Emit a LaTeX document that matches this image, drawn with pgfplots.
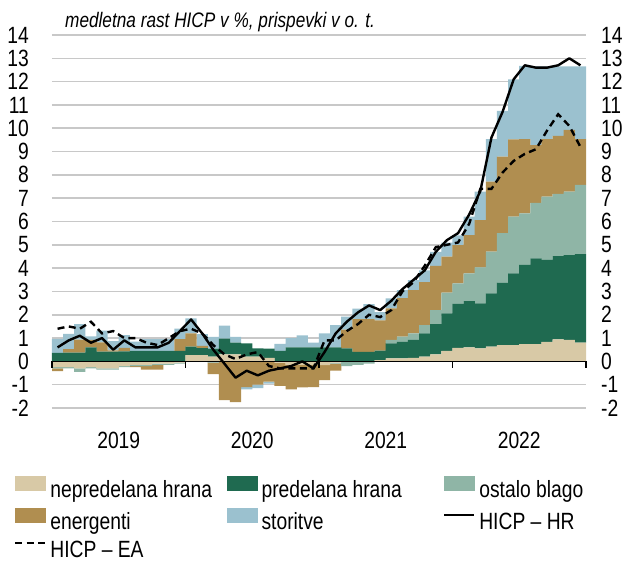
\documentclass[border=0pt]{standalone}
\usepackage{fontspec}
\setmainfont{Liberation Sans}[FakeStretch=0.82]
\usepackage{pgfplots}
\pgfplotsset{compat=1.18}
\usepackage{pgfplotstable}

\definecolor{cnh}{RGB}{216,201,166}
\definecolor{cph}{RGB}{31,106,80}
\definecolor{cob}{RGB}{143,181,166}
\definecolor{cen}{RGB}{176,142,80}
\definecolor{cst}{RGB}{155,193,207}
\definecolor{cgrid}{RGB}{200,200,200}

% positive parts of contributions (p.p.), months Jan 2019 = 0 ... Dec 2022 = 47
\pgfplotstableread{
i nh ph ob en st
0 0 0.37 0 0 0.60
1 0 0.38 0 0.15 0.65
2 0 0.38 0 0.55 0.67
3 0 0.60 0 0.32 0.15
4 0 0.42 0 0.40 0.50
5 0 0.42 0 0.05 0.40
6 0 0.43 0 0.15 0.55
7 0 0.45 0 0 0.40
8 0 0.45 0 0 0.50
9 0 0.45 0 0 0.50
10 0 0.45 0 0 0.50
11 0 0.45 0 0.50 0.45
12 0.27 0.36 0 0.57 0.64
13 0.27 0.30 0 0.10 0.50
14 0.20 0.35 0 0 0.50
15 0.30 0.68 0 0 0.55
16 0.30 0.50 0 0 0.25
17 0.20 0.57 0 0 0
18 0.20 0.36 0 0 0
19 0.15 0.40 0 0 0
20 0 0.45 0 0 0.30
21 0 0.60 0 0 0.40
22 0 0.60 0 0 0.52
23 0 0.60 0 0 0.20
24 0 0.60 0 0 0.60
25 0 0.60 0 0 0.95
26 0 0.56 0 0.80 0.56
27 0 0.41 0 1.40 0.45
28 0 0.41 0 1.40 0.65
29 0.05 0.41 0 1.30 0.35
30 0.13 0.64 0.15 1.35 0.43
31 0.13 0.71 0.22 1.65 0.35
32 0.15 0.77 0.28 1.86 0.43
33 0.20 1.00 0.35 1.85 0.50
34 0.30 1.30 0.60 1.90 0.60
35 0.45 1.61 0.89 1.54 0.60
36 0.58 1.89 0.88 1.64 0.41
37 0.60 1.98 1.20 1.64 0.79
38 0.56 1.93 1.54 2.03 1.22
39 0.63 2.29 1.79 3.00 1.82
40 0.70 2.68 2.12 3.28 1.96
41 0.70 3.08 2.43 3.31 2.58
42 0.74 3.40 2.21 3.18 3.15
43 0.74 3.68 2.38 2.48 3.37
44 0.84 3.51 2.72 2.46 3.12
45 0.94 3.58 2.66 2.49 2.98
46 0.92 3.64 2.72 2.65 2.72
47 0.80 3.80 2.97 1.96 3.12
}\posdata

% negative parts of contributions
\pgfplotstableread{
i nh ph ob en st
0 -0.25 0 -0.05 -0.12 0
1 -0.25 0 -0.05 0 0
2 -0.30 0 -0.15 0 0
3 -0.25 0 -0.05 0 0
4 -0.30 0 -0.05 0 0
5 -0.30 0 -0.05 0 0
6 -0.20 0 -0.05 0 0
7 -0.15 0 -0.05 -0.05 0
8 -0.15 0 -0.05 -0.15 0
9 -0.10 0 -0.05 -0.20 0
10 -0.10 0 -0.05 0 0
11 -0.05 0 -0.05 0 0
12 0 0 0 0 0
13 0 0 0 0 0
14 0 0 -0.05 -0.50 0
15 0 0 0 -1.66 0
16 0 0 0 -1.75 0
17 0 0 0 -1.10 -0.10
18 0 0 0 -1.00 -0.15
19 0 0 0 -0.87 -0.08
20 -0.05 0 0 -1.00 0
21 -0.15 0 0 -1.05 0
22 -0.15 0 0 -0.97 0
23 -0.15 0 0 -0.95 0
24 -0.16 0 0 -0.64 0
25 -0.05 0 -0.05 -0.30 0
26 0 0 -0.20 0 0
27 0 0 -0.15 0 0
28 0 0 -0.10 0 0
29 0 0 0 0 0
30 0 0 0 0 0
31 0 0 0 0 0
32 0 0 0 0 0
33 0 0 0 0 0
34 0 0 0 0 0
35 0 0 0 0 0
36 0 0 0 0 0
37 0 0 0 0 0
38 0 0 0 0 0
39 0 0 0 0 0
40 0 0 0 0 0
41 0 0 0 0 0
42 0 0 0 0 0
43 0 0 0 0 0
44 0 0 0 0 0
45 0 0 0 0 0
46 0 0 0 0 0
47 0 0 0 0 0
}\negdata

% HICP annual rates, Croatia and euro area
\pgfplotstableread{
i hr ea
0 0.6 1.4
1 0.9 1.5
2 1.1 1.4
3 0.8 1.7
4 1.0 1.2
5 0.5 1.3
6 0.9 1.0
7 0.6 1.0
8 0.6 0.8
9 0.6 0.7
10 0.8 1.0
11 1.3 1.3
12 1.8 1.4
13 1.2 1.2
14 0.5 0.7
15 -0.1 0.3
16 -0.7 0.1
17 -0.4 0.3
18 -0.6 0.4
19 -0.4 -0.2
20 -0.3 -0.3
21 -0.2 -0.3
22 0.0 -0.3
23 -0.3 -0.3
24 0.4 0.9
25 1.2 0.9
26 1.7 1.3
27 2.1 1.6
28 2.4 2.0
29 2.2 1.9
30 2.6 2.2
31 3.1 3.0
32 3.5 3.4
33 3.9 4.1
34 4.7 4.9
35 5.2 5.0
36 5.5 5.1
37 6.3 5.9
38 7.3 7.4
39 9.6 7.4
40 10.7 8.1
41 12.1 8.6
42 12.7 8.9
43 12.6 9.1
44 12.6 9.9
45 12.7 10.6
46 13.0 10.1
47 12.7 9.2
}\linedata

\pgfplotsset{
  mybase/.style={
    scale only axis, width=534pt, height=373pt,
    xmin=-0.5, xmax=47.5, ymin=-2, ymax=14,
    at={(52pt,155pt)}, anchor=south west,
    axis line style={draw=none}, major tick length=0pt,
    tick label style={font=\fontsize{23.5}{28}\selectfont},
  }
}

\begin{document}
\begin{tikzpicture}
\useasboundingbox (0,0) rectangle (631pt,563pt);

% positive stacks, grid, left labels, years
\begin{axis}[mybase, ybar stacked, bar width=1.02,
  ytick={-2,-1,...,14},
  yticklabels={-2,-1,0,1,2,3,4,5,6,7,8,9,10,11,12,13,14},
  yticklabel pos=left,
  yticklabel style={anchor=east, inner sep=0pt, xshift=-23pt},
  xtick={5.5,17.5,29.5,41.5}, xticklabels={2019,2020,2021,2022},
  xticklabel style={anchor=base, inner sep=0pt, yshift=-40pt},
  ymajorgrids, grid style={cgrid, line width=1.6pt},
]
\addplot[fill=cnh, draw=none] table[x=i,y=nh]{\posdata};
\addplot[fill=cph, draw=none] table[x=i,y=ph]{\posdata};
\addplot[fill=cob, draw=none] table[x=i,y=ob]{\posdata};
\addplot[fill=cen, draw=none] table[x=i,y=en]{\posdata};
\addplot[fill=cst, draw=none] table[x=i,y=st]{\posdata};
\end{axis}

% negative stacks
\begin{axis}[mybase, hide axis, ybar stacked, bar width=1.02]
\addplot[fill=cnh, draw=none] table[x=i,y=nh]{\negdata};
\addplot[fill=cph, draw=none] table[x=i,y=ph]{\negdata};
\addplot[fill=cob, draw=none] table[x=i,y=ob]{\negdata};
\addplot[fill=cen, draw=none] table[x=i,y=en]{\negdata};
\addplot[fill=cst, draw=none] table[x=i,y=st]{\negdata};
\end{axis}

% lines, zero line, right labels, legend, subtitle
\begin{axis}[mybase, clip=false,
  xtick=\empty,
  ytick={-2,-1,...,14},
  yticklabels={-2,-1,0,1,2,3,4,5,6,7,8,9,10,11,12,13,14},
  yticklabel pos=right,
  yticklabel style={anchor=west, inner sep=0pt, xshift=15pt},
  legend cell align=left,
  legend style={at={(-0.0712,-0.182)}, anchor=north west, draw=none, fill=none,
    inner sep=0pt, outer sep=0pt, legend columns=3,
    font=\fontsize{23.5}{28}\selectfont, row sep=6pt,
    nodes={inner sep=0pt, text height=17pt, text depth=5pt},
    /tikz/column 1/.style={column sep=4pt},
    /tikz/column 2/.style={column sep=15pt},
    /tikz/column 3/.style={column sep=4pt},
    /tikz/column 4/.style={column sep=41pt},
    /tikz/column 5/.style={column sep=4pt}},
]
\addlegendimage{legend image code/.code={\fill[cnh] (0pt,1pt) rectangle (30pt,15pt);}}
\addlegendentry{nepredelana hrana}
\addlegendimage{legend image code/.code={\fill[cph] (0pt,1pt) rectangle (30pt,15pt);}}
\addlegendentry{predelana hrana}
\addlegendimage{legend image code/.code={\fill[cob] (0pt,1pt) rectangle (30pt,15pt);}}
\addlegendentry{ostalo blago}
\addlegendimage{legend image code/.code={\fill[cen] (0pt,1pt) rectangle (30pt,15pt);}}
\addlegendentry{energenti}
\addlegendimage{legend image code/.code={\fill[cst] (0pt,1pt) rectangle (30pt,15pt);}}
\addlegendentry{storitve}

\draw[black, line width=1.2pt] (axis cs:-0.5,0) -- (axis cs:47.5,0);
\draw[black, line width=1.2pt] (axis cs:-0.5,0) -- ++(0pt,-7pt);
\draw[black, line width=1.2pt] (axis cs:11.5,0) -- ++(0pt,-7pt);
\draw[black, line width=1.2pt] (axis cs:23.5,0) -- ++(0pt,-7pt);
\draw[black, line width=1.2pt] (axis cs:35.5,0) -- ++(0pt,-7pt);
\draw[black, line width=1.2pt] (axis cs:47.5,0) -- ++(0pt,-7pt);

\addplot[black, line width=2.4pt, line join=round, mark=none,
  legend image code/.code={\draw[black, line width=2.4pt] (0pt,8pt) -- (30pt,8pt);}]
  table[x=i,y=hr]{\linedata};
\addlegendentry{HICP – HR}
\addplot[black, line width=2.4pt, dash pattern=on 7pt off 4.5pt, mark=none,
  legend image code/.code={\draw[black, line width=2.4pt, dash pattern=on 7pt off 4.5pt] (0pt,8pt) -- (30pt,8pt);}]
  table[x=i,y=ea]{\linedata};
\addlegendentry{HICP – EA}

\node[anchor=base west, inner sep=0pt, font=\fontsize{21}{25}\selectfont\itshape]
  at (axis description cs:0.0243,1.0188) {medletna rast HICP v \%, prispevki v o. t.};
\end{axis}
\end{tikzpicture}
\end{document}
